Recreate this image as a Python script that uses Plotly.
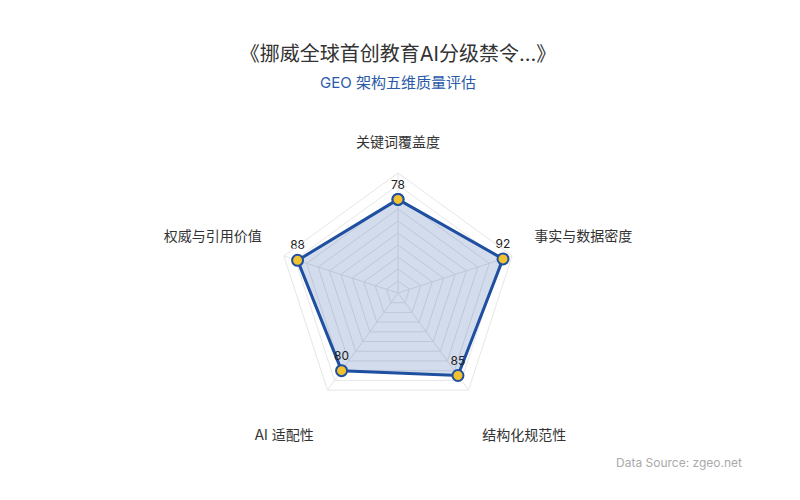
import plotly.graph_objects as go

# five GEO quality dimensions, clockwise from the top
dimensions = ["关键词覆盖度", "事实与数据密度", "结构化规范性", "AI 适配性", "权威与引用价值"]
scores = [78, 92, 85, 80, 88]

title_text = "《挪威全球首创教育AI分级禁令...》"
subtitle_text = "GEO 架构五维质量评估"
source_text = "Data Source: zgeo.net"

BLUE = "#1f4fa0"
YELLOW = "#f2c12e"
GRID = "#e6e6e6"
CJK = "Inter, Noto Sans CJK SC, sans-serif"

# close the polygon
r_closed = scores + scores[:1]
theta_closed = dimensions + dimensions[:1]

# nudge the axis labels a bit further out, like the original radar layout:
# bottom ones get pushed down, side ones lifted up
label_text = [
    dimensions[0],
    dimensions[1] + "<br> ",
    "<br>" + dimensions[2],
    "<br>" + dimensions[3],
    dimensions[4] + "<br> ",
]

fig = go.Figure()

fig.add_trace(go.Scatterpolar(
    r=r_closed,
    theta=theta_closed,
    mode="lines+markers+text",
    fill="toself",
    fillcolor="rgba(31,79,160,0.2)",
    line=dict(color=BLUE, width=3),
    marker=dict(size=11, color=YELLOW, line=dict(color=BLUE, width=2)),
    text=[str(v) for v in scores] + [""],
    textposition="top center",
    textfont=dict(size=12, color="#222", family=CJK),
    hoverinfo="skip",
    showlegend=False,
))

fig.update_layout(
    width=800,
    height=500,
    paper_bgcolor="white",
    plot_bgcolor="white",
    margin=dict(l=0, r=0, t=0, b=0),
    font=dict(family=CJK, color="#333"),
    title=dict(
        text=title_text,
        x=0.4875,
        xanchor="center",
        y=0.908,
        yanchor="middle",
        yref="container",
        font=dict(size=20, color="#333", family=CJK),
    ),
    polar=dict(
        domain=dict(x=[0.3375, 0.6375], y=[0.19, 0.67]),
        bgcolor="white",
        gridshape="linear",
        radialaxis=dict(
            range=[0, 100],
            dtick=10,
            showticklabels=False,
            ticks="",
            showline=False,
            gridcolor=GRID,
            gridwidth=1,
        ),
        angularaxis=dict(
            direction="clockwise",
            rotation=90,
            tickmode="array",
            tickvals=dimensions,
            ticktext=label_text,
            gridcolor=GRID,
            linecolor=GRID,
            ticks="outside",
            ticklen=20,
            tickcolor="rgba(0,0,0,0)",
            tickfont=dict(size=14, color="#333", family=CJK),
        ),
    ),
    annotations=[
        dict(
            text=subtitle_text,
            xref="paper", yref="paper",
            x=0.4875, y=0.852,
            xanchor="center", yanchor="middle",
            showarrow=False,
            font=dict(size=15, color="#2a5aa8", family=CJK),
        ),
        dict(
            text=source_text,
            xref="paper", yref="paper",
            x=0.92, y=0.092,
            xanchor="right", yanchor="middle",
            showarrow=False,
            font=dict(size=12, color="#aaa", family=CJK),
        ),
    ],
)

fig.write_html("out.html")
